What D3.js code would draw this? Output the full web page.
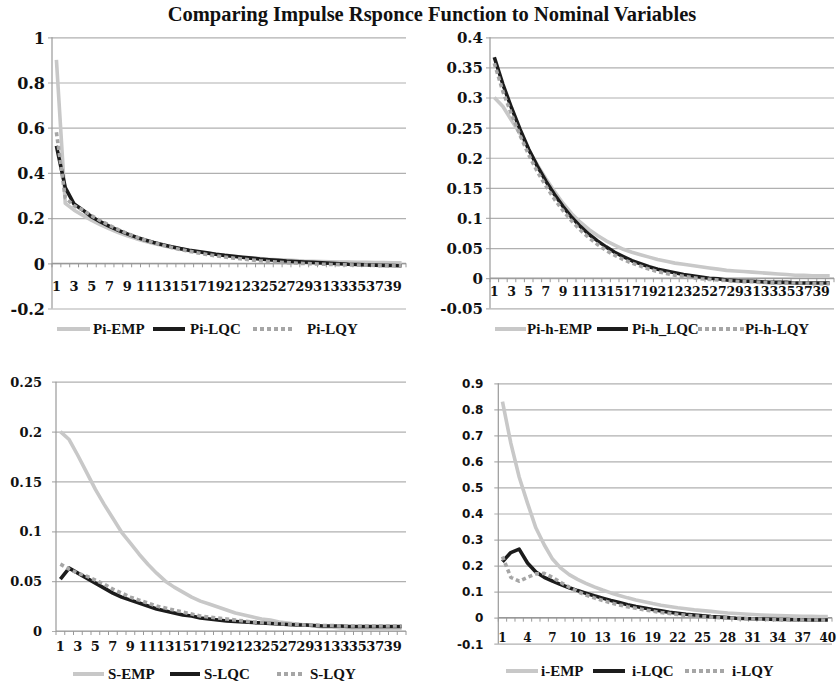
<!DOCTYPE html>
<html>
<head>
<meta charset="utf-8">
<script src="https://cdn.jsdelivr.net/npm/d3@7"></script>
<style>
  body { margin: 0; background: #fff; }
</style>
</head>
<body>
<div id="chart"></div>
<script>
// Impulse responses, 40 periods each

var periods = d3.range(1, 41);

var piEmp = [0.9,0.265,0.235,0.212,0.19,0.17,0.152,0.136,0.122,0.109, 0.098,0.088,0.079,0.07,0.063,0.056,0.05,0.045,0.04,0.035,
             0.031,0.027,0.024,0.021,0.018,0.016,0.014,0.012,0.01,0.009, 0.008,0.007,0.006,0.005,0.004,0.004,0.003,0.003,0.002,0.002];
var piLqc = [0.52,0.335,0.262,0.235,0.205,0.183,0.163,0.146,0.13,0.116, 0.103,0.092,0.082,0.073,0.065,0.058,0.052,0.046,0.04,0.035,
             0.031,0.027,0.023,0.019,0.016,0.013,0.01,0.008,0.006,0.004, 0.002,0,-0.002,-0.004,-0.005,-0.007,-0.008,-0.009,-0.01,-0.011];
var piLqy = [0.58,0.29,0.255,0.235,0.21,0.188,0.168,0.149,0.132,0.117, 0.103,0.091,0.08,0.07,0.061,0.053,0.046,0.039,0.033,0.028,
             0.023,0.019,0.015,0.011,0.008,0.005,0.003,0.001,-0.001,-0.002, -0.004,-0.005,-0.006,-0.007,-0.008,-0.008,-0.009,-0.009,-0.01,-0.01];

var pihEmp = [0.3,0.285,0.262,0.24,0.213,0.188,0.165,0.144,0.124,0.107, 0.093,0.081,0.071,0.062,0.055,0.048,0.043,0.039,0.035,0.031,
              0.028,0.025,0.023,0.021,0.019,0.017,0.015,0.013,0.012,0.011, 0.01,0.009,0.008,0.007,0.006,0.005,0.005,0.004,0.004,0.004];
var pihLqc = [0.367,0.322,0.283,0.247,0.214,0.186,0.161,0.139,0.119,0.101, 0.086,0.073,0.062,0.052,0.043,0.036,0.029,0.024,0.019,0.015,
              0.012,0.009,0.006,0.004,0.002,0,-0.001,-0.003,-0.004,-0.005, -0.005,-0.006,-0.007,-0.007,-0.007,-0.008,-0.008,-0.008,-0.008,-0.008];
var pihLqy = [0.357,0.31,0.272,0.237,0.205,0.177,0.153,0.131,0.112,0.095, 0.08,0.067,0.056,0.046,0.038,0.031,0.025,0.02,0.015,0.011,
              0.008,0.005,0.003,0.001,-0.001,-0.002,-0.003,-0.004,-0.005,-0.006, -0.006,-0.007,-0.007,-0.008,-0.008,-0.008,-0.008,-0.009,-0.009,-0.009];

var sEmp = [0.2,0.192,0.176,0.159,0.142,0.127,0.113,0.099,0.088,0.077, 0.067,0.058,0.05,0.044,0.039,0.034,0.03,0.027,0.024,0.021,
            0.018,0.016,0.014,0.012,0.011,0.009,0.008,0.007,0.006,0.005, 0.004,0.004,0.003,0.003,0.002,0.002,0.002,0.002,0.002,0.002];
var sLqc = [0.052,0.063,0.058,0.053,0.048,0.043,0.038,0.034,0.031,0.028, 0.025,0.022,0.02,0.018,0.016,0.015,0.013,0.012,0.011,0.01,
            0.0095,0.009,0.0085,0.008,0.0075,0.007,0.0065,0.006,0.006,0.0055, 0.005,0.005,0.005,0.0045,0.0045,0.0045,0.0045,0.0045,0.0045,0.0045];
var sLqy = [0.067,0.062,0.058,0.055,0.051,0.047,0.042,0.038,0.034,0.031, 0.028,0.025,0.023,0.021,0.019,0.017,0.015,0.014,0.013,0.012,
            0.011,0.01,0.009,0.0085,0.008,0.0075,0.007,0.0065,0.006,0.006, 0.0055,0.0055,0.005,0.005,0.005,0.005,0.005,0.005,0.005,0.005];

var iEmp = [0.83,0.67,0.54,0.44,0.345,0.28,0.225,0.19,0.165,0.147, 0.132,0.118,0.106,0.095,0.085,0.076,0.068,0.061,0.054,0.048,
            0.043,0.038,0.034,0.03,0.027,0.024,0.021,0.018,0.016,0.014, 0.012,0.01,0.009,0.008,0.007,0.006,0.005,0.005,0.004,0.004];
var iLqc = [0.215,0.25,0.263,0.21,0.175,0.155,0.14,0.127,0.115,0.104, 0.094,0.084,0.075,0.066,0.058,0.05,0.043,0.037,0.031,0.026,
            0.021,0.017,0.013,0.01,0.007,0.004,0.002,0,-0.002,-0.003, -0.004,-0.005,-0.006,-0.007,-0.007,-0.008,-0.008,-0.009,-0.009,-0.009];
var iLqy = [0.235,0.155,0.14,0.155,0.168,0.17,0.155,0.135,0.117,0.1, 0.087,0.076,0.066,0.057,0.049,0.042,0.036,0.03,0.025,0.02,
            0.016,0.012,0.009,0.006,0.004,0.002,0,-0.001,-0.003,-0.004, -0.005,-0.006,-0.007,-0.007,-0.008,-0.008,-0.009,-0.009,-0.009,-0.01];

var piTicks  = [-0.2, 0, 0.2, 0.4, 0.6, 0.8, 1];
var pihTicks = [-0.05, 0, 0.05, 0.1, 0.15, 0.2, 0.25, 0.3, 0.35, 0.4];
var sTicks   = [0, 0.05, 0.1, 0.15, 0.2, 0.25];
var iTicks   = [-0.1, 0, 0.1, 0.2, 0.3, 0.4, 0.5, 0.6, 0.7, 0.8, 0.9];

var serif = "'DejaVu Serif', serif",
    legendFont = "'Liberation Serif', serif";

var styles = [
  {stroke: "#c8c8c8", dash: null},
  {stroke: "#1c1c1c", dash: null},
  {stroke: "#a6a6a6", dash: "4,3"}
];

var panels = [
  {names: ["Pi-EMP", "Pi-LQC", "Pi-LQY"], series: [piEmp, piLqc, piLqy], ticks: piTicks, every: 2,
   x0: 52, x1: 406, yTop: 37.3, yBot: 308.5, yFont: "16px " + serif, yGap: 7, xFont: "13px " + serif, xLabelY: 291,
   legY: 329, legLines: [[57, 90], [153, 185], [253, 293]], legText: [93, 190, 307]},
  {names: ["Pi-h-EMP", "Pi-h_LQC", "Pi-h-LQY"], series: [pihEmp, pihLqc, pihLqy], ticks: pihTicks, every: 2,
   x0: 490, x1: 834, yTop: 37.3, yBot: 308.3, yFont: "15px " + serif, yGap: 7, xFont: "12.5px " + serif, xLabelY: 296,
   legY: 329, legLines: [[495, 526], [597, 628], [698, 745]], legText: [527, 632, 745]},
  {names: ["S-EMP", "S-LQC", "S-LQY"], series: [sEmp, sLqc, sLqy], ticks: sTicks, every: 2,
   x0: 56, x1: 406, yTop: 381.7, yBot: 631, yFont: "13px " + serif, yGap: 14, xFont: "13px " + serif, xLabelY: 651,
   legY: 674, legLines: [[73, 104], [170, 200], [277, 305]], legText: [108, 204, 310]},
  {names: ["i-EMP", "i-LQC", "i-LQY"], series: [iEmp, iLqc, iLqy], ticks: iTicks, every: 3,
   x0: 498.3, x1: 832, yTop: 383.3, yBot: 643.7, yFont: "bold 12px 'DejaVu Sans', sans-serif", yGap: 15, xFont: "12px " + serif, xLabelY: 641.5,
   legY: 671, legLines: [[506, 538], [593, 625], [685, 725]], legText: [541, 632, 732]}
];

var svg = d3.select("#chart").append("svg")
    .attr("width", 838)
    .attr("height", 686);

svg.append("text")
    .attr("x", 432)
    .attr("y", 21)
    .attr("text-anchor", "middle")
    .style("font", "bold 20.5px 'Liberation Serif', serif")
    .attr("fill", "#111")
    .text("Comparing Impulse Rsponce Function to Nominal Variables");

panels.forEach(function(p) {
    var x = d3.scaleBand().domain(periods).range([p.x0, p.x1]).padding(0);
    var y = d3.scaleLinear()
        .domain([p.ticks[0], p.ticks[p.ticks.length - 1]])
        .range([p.yBot, p.yTop]);
    var w = p.x1 - p.x0;

    var g = svg.append("g");

    // gridlines + y labels
    var yAxis = g.append("g")
        .attr("transform", "translate(" + p.x0 + ",0)")
        .call(d3.axisLeft(y).tickValues(p.ticks).tickSize(-w).tickFormat(function(d) { return String(d); }));
    yAxis.select(".domain").remove();
    yAxis.selectAll(".tick line")
        .attr("x1", -4)
        .attr("stroke", "#b0b0b0")
        .attr("stroke-width", 1.2);
    yAxis.selectAll(".tick text")
        .attr("x", -p.yGap)
        .attr("dy", "0.36em")
        .style("font", p.yFont)
        .style("font-weight", "bold")
        .attr("fill", "#111");

    // vertical axis line
    g.append("line")
        .attr("x1", p.x0).attr("x2", p.x0)
        .attr("y1", p.yTop).attr("y2", p.yBot)
        .attr("stroke", "#999").attr("stroke-width", 1.2);

    // horizontal axis at zero with ticks at band edges
    var y0 = y(0);
    g.append("line")
        .attr("x1", p.x0).attr("x2", p.x1)
        .attr("y1", y0).attr("y2", y0)
        .attr("stroke", "#999").attr("stroke-width", 1.2);
    g.selectAll(".xt")
        .data(periods.concat(["end"]))
        .enter().append("line")
        .attr("x1", function(d) { return d === "end" ? p.x1 : x(d); })
        .attr("x2", function(d) { return d === "end" ? p.x1 : x(d); })
        .attr("y1", y0).attr("y2", y0 + 4)
        .attr("stroke", "#999");

    g.selectAll(".xl")
        .data(periods.filter(function(d) { return (d - 1) % p.every === 0; }))
        .enter().append("text")
        .attr("x", function(d) { return x(d) + x.bandwidth() / 2; })
        .attr("y", p.xLabelY)
        .attr("text-anchor", "middle")
        .style("font", p.xFont)
        .style("font-weight", "bold")
        .attr("fill", "#111")
        .text(function(d) { return d; });

    var line = d3.line()
        .x(function(d, i) { return x(periods[i]) + x.bandwidth() / 2; })
        .y(function(d) { return y(d); });

    p.series.forEach(function(s, k) {
        g.append("path")
            .datum(s)
            .attr("d", line)
            .attr("fill", "none")
            .attr("stroke", styles[k].stroke)
            .attr("stroke-width", 3.6)
            .attr("stroke-linejoin", "round")
            .attr("stroke-dasharray", styles[k].dash);

        // legend
        g.append("line")
            .attr("x1", p.legLines[k][0]).attr("x2", p.legLines[k][1])
            .attr("y1", p.legY).attr("y2", p.legY)
            .attr("stroke", styles[k].stroke)
            .attr("stroke-width", 4)
            .attr("stroke-dasharray", styles[k].dash);
        g.append("text")
            .attr("x", p.legText[k])
            .attr("y", p.legY + 5)
            .style("font", "bold 15px " + legendFont)
            .attr("fill", "#111")
            .text(p.names[k]);
    });
});
</script>
</body>
</html>
